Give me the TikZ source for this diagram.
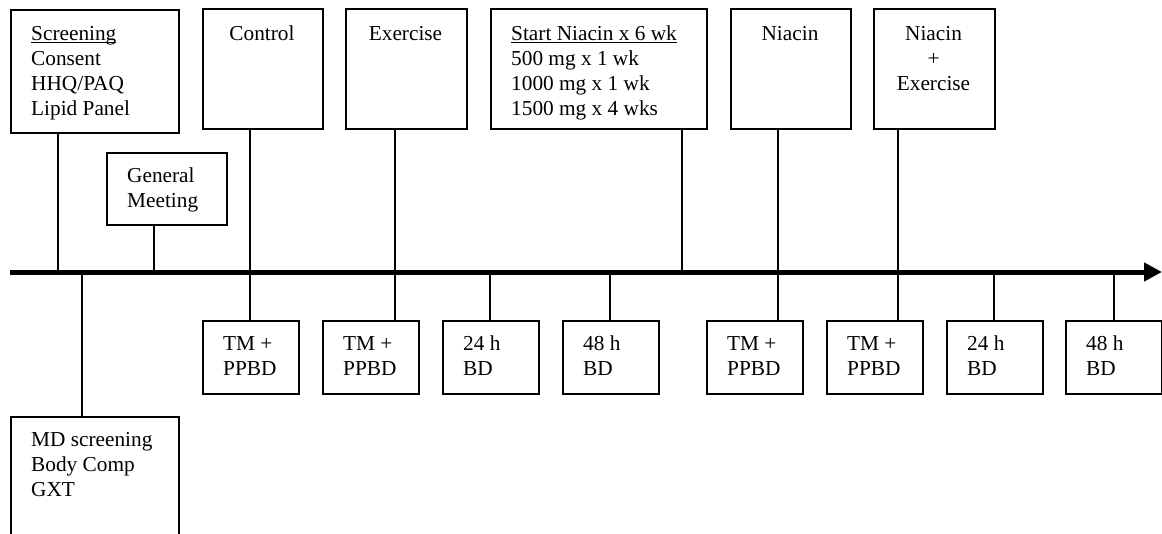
\documentclass[tikz,border=0pt]{standalone}
\usepackage{fontspec}
\setmainfont{Liberation Serif}
\usetikzlibrary{arrows.meta}
\newcommand\myul[1]{\leavevmode\setbox0\hbox{#1}\rlap{\rule[-2.6pt]{\wd0}{1pt}}\box0}
\begin{document}
\begin{tikzpicture}[x=1pt,y=-1pt,
  boxbase/.style={draw, line width=1.6pt, anchor=north west, inner sep=0pt},
  topbox/.style={boxbase, minimum width=120pt, minimum height=120pt},
  botbox/.style={boxbase, minimum width=96pt, minimum height=73pt},
  txt/.style={inner sep=0pt, font=\fontsize{21.3}{25}\selectfont},
  conn/.style={line width=1.6pt},
  axis/.style={line width=5pt, -{Triangle[length=18pt,width=18pt]}}]
\useasboundingbox (0,0) rectangle (1162,533);

% timeline
\coordinate (tl0) at (10,272);
\coordinate (tlE) at (1162,272);
\draw[axis] (tl0) -- (tlE);

% ticks on timeline
\coordinate (tScr) at (58,272);
\coordinate (tGM)  at (154,272);
\coordinate (tMD)  at (82,272);
\coordinate (tCtl) at (250,272);
\coordinate (tExe) at (395,272);
\coordinate (t24a) at (490,272);
\coordinate (t48a) at (610,272);
\coordinate (tN6)  at (682,272);
\coordinate (tNia) at (778,272);
\coordinate (tNE)  at (898,272);
\coordinate (t24b) at (994,272);
\coordinate (t48b) at (1114,272);

% top boxes
\node[boxbase, minimum width=168pt, minimum height=123pt] (scr) at (10,9) {};
\node[txt, anchor=base west] (scrT) at (31,40) {\parbox[t]{140pt}{\raggedright\myul{Screening}\\Consent\\HHQ/PAQ\\Lipid Panel}};

\node[topbox] (ctl) at (202,8) {};
\node[txt, anchor=base] (ctlT) at (262,40) {\parbox[t]{110pt}{\centering Control}};

\node[topbox, minimum width=121pt] (exe) at (345,8) {};
\node[txt, anchor=base] (exeT) at (405.5,40) {\parbox[t]{110pt}{\centering Exercise}};

\node[topbox, minimum width=216pt] (n6) at (490,8) {};
\node[txt, anchor=base west] (n6T) at (511,40) {\parbox[t]{190pt}{\raggedright\myul{Start Niacin x 6 wk}\\500 mg x 1 wk\\1000 mg x 1 wk\\1500 mg x 4 wks}};

\node[topbox] (nia) at (730,8) {};
\node[txt, anchor=base] (niaT) at (790,40) {\parbox[t]{110pt}{\centering Niacin}};

\node[topbox, minimum width=121pt] (ne) at (873,8) {};
\node[txt, anchor=base] (neT) at (933.5,40) {\parbox[t]{110pt}{\centering Niacin\\+\\Exercise}};

\node[boxbase, minimum width=120pt, minimum height=72pt] (gm) at (106,152) {};
\node[txt, anchor=base west] (gmT) at (127,182) {\parbox[t]{100pt}{\raggedright General\\Meeting}};

% bottom boxes
\node[botbox] (b1) at (202,320) {};
\node[txt, anchor=base west] (b1T) at (223,350) {\parbox[t]{80pt}{\raggedright TM +\\PPBD}};
\node[botbox] (b2) at (322,320) {};
\node[txt, anchor=base west] (b2T) at (343,350) {\parbox[t]{80pt}{\raggedright TM +\\PPBD}};
\node[botbox] (b3) at (442,320) {};
\node[txt, anchor=base west] (b3T) at (463,350) {\parbox[t]{80pt}{\raggedright 24 h\\BD}};
\node[botbox] (b4) at (562,320) {};
\node[txt, anchor=base west] (b4T) at (583,350) {\parbox[t]{80pt}{\raggedright 48 h\\BD}};
\node[botbox] (b5) at (706,320) {};
\node[txt, anchor=base west] (b5T) at (727,350) {\parbox[t]{80pt}{\raggedright TM +\\PPBD}};
\node[botbox] (b6) at (826,320) {};
\node[txt, anchor=base west] (b6T) at (847,350) {\parbox[t]{80pt}{\raggedright TM +\\PPBD}};
\node[botbox] (b7) at (946,320) {};
\node[txt, anchor=base west] (b7T) at (967,350) {\parbox[t]{80pt}{\raggedright 24 h\\BD}};
\node[botbox] (b8) at (1065,320) {};
\node[txt, anchor=base west] (b8T) at (1086,350) {\parbox[t]{80pt}{\raggedright 48 h\\BD}};

\node[boxbase, minimum width=168pt, minimum height=140pt] (md) at (10,416) {};
\node[txt, anchor=base west] (mdT) at (31,446) {\parbox[t]{150pt}{\raggedright MD screening\\Body Comp\\GXT}};

% connectors above
\draw[conn] (scr.south -| tScr) -- (tScr);
\draw[conn] (gm.south -| tGM) -- (tGM);
\draw[conn] (ctl.south -| tCtl) -- (tCtl);
\draw[conn] (exe.south -| tExe) -- (tExe);
\draw[conn] (n6.south -| tN6) -- (tN6);
\draw[conn] (nia.south -| tNia) -- (tNia);
\draw[conn] (ne.south -| tNE) -- (tNE);

% connectors below
\draw[conn] (tMD) -- (md.north -| tMD);
\draw[conn] (tCtl) -- (b1.north -| tCtl);
\draw[conn] (tExe) -- (b2.north -| tExe);
\draw[conn] (t24a) -- (b3.north -| t24a);
\draw[conn] (t48a) -- (b4.north -| t48a);
\draw[conn] (tNia) -- (b5.north -| tNia);
\draw[conn] (tNE) -- (b6.north -| tNE);
\draw[conn] (t24b) -- (b7.north -| t24b);
\draw[conn] (t48b) -- (b8.north -| t48b);
\end{tikzpicture}
\end{document}
